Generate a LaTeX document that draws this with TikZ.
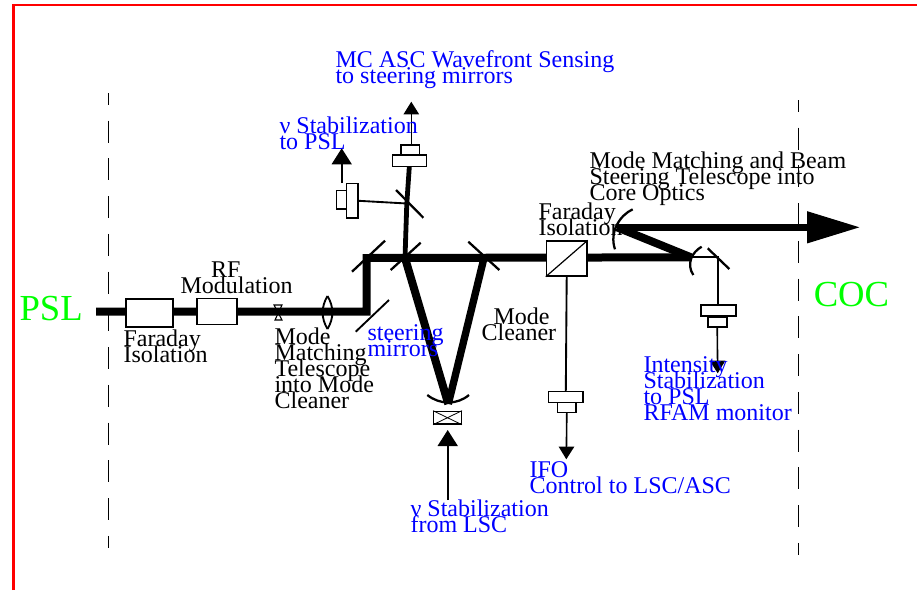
\documentclass[tikz,border=0pt]{standalone}
\usepackage{fontspec}
\setmainfont{Liberation Serif}
\usetikzlibrary{arrows.meta,calc,positioning}
\definecolor{labelblue}{rgb}{0,0,1}
\definecolor{labelgreen}{rgb}{0,1,0}
\lineskiplimit=-30pt
\tikzset{
  beam/.style={line width=6pt},
  thinbeam/.style={line width=3.6pt},
  pickoff/.style={line width=1.4pt},
  mirror/.style={line width=1.7pt},
  signal/.style={line width=1.2pt,-{Triangle[width=11.5pt,length=9.5pt]}},
  bigsignal/.style={line width=1.2pt,-{Triangle[width=15pt,length=12pt]}},
  optic/.style 2 args={draw,fill=white,line width=1pt,inner sep=0,minimum width=#1*0.75pt,minimum height=#2*0.75pt},
  txt/.style={align=left,inner sep=0,anchor=north west,font=\fontsize{18}{12}\selectfont},
  sig/.style={txt,text=labelblue},
  region/.style={inner sep=0,anchor=base west,text=labelgreen,font=\fontsize{27.5}{30}\selectfont},
  boundary/.style={line width=0.9pt,dash pattern=on 16.5pt off 11.8pt,dash phase=7.5pt}
}
\begin{document}
\begin{tikzpicture}[x=0.75pt,y=-0.75pt]
  \useasboundingbox (0,0) rectangle (917,590);
  % Frame
  \draw[red,line width=2pt] (13.3,590) -- (13.3,5) -- (917,5);
  % Region boundaries
  \coordinate (PSLtop) at (108.7,93);
  \coordinate (PSLbot) at (108.7,548);
  \coordinate (COCtop) at (798.3,100);
  \coordinate (COCbot) at (798.3,555);
  \draw[boundary] (PSLtop) -- (PSLbot);
  \draw[boundary] (COCtop) -- (COCbot);
  % Beam junctions
  \coordinate (In) at (96,311.7);
  \coordinate (Turn) at (366.5,311.7);
  \coordinate (Steer) at (366.5,258);
  \coordinate (MCin) at (405,258);
  \coordinate (MCout) at (484,258);
  \coordinate (MCend) at (448.3,404);
  \coordinate (Fold) at (691,257.3);
  \coordinate (Tele) at (617,227.3);
  \coordinate (Out) at (860.5,227.3);
  \coordinate (Split) at (406.8,203.5);
  \coordinate (Pick) at (718.3,257.3);
  % Telescope optics sit under the beam
  \draw[line width=0.8pt,fill=white] (274,305) -- (282,305) -- (275,320) -- (282,320) -- cycle;
  \draw[line width=1.4pt] (327.5,296) .. controls (321,307) and (321,318) .. (327.5,329);
  \draw[line width=1.4pt] (327.5,296) .. controls (334,307) and (334,318) .. (327.5,329);
  % Main beam
  \draw[beam,line join=miter] (In) -- (Turn) -- (Steer) -- (Fold);
  \draw[beam] (Fold) -- (Tele);
  \draw[line width=5.5pt,-{Triangle[width=22.5pt,length=40pt]}] (Tele) -- (Out);
  % Mode cleaner
  \draw[line width=6pt] (MCin) -- (MCend);
  \draw[line width=5.5pt] (MCout) -- (MCend);
  % Optics on the main beam
  \node[optic={47}{28}] (FI) at (149.5,313) {};
  \node[optic={40}{25.5}] (RF) at (217,311.5) {};
  \node[optic={40.5}{35}] (FR) at (566.7,258.5) {};
  \draw[line width=0.9pt] (FR.south west) -- (FR.north east);
  % Steering mirrors
  \draw[pickoff] (355.7,331.7) -- (389,300);
  \draw[mirror] (352,271.7) -- (385,240.7);
  \draw[mirror] (390.7,270) -- (420.7,242.7);
  \draw[mirror] (468.3,241.7) -- (499.3,270);
  \draw[mirror] (427.3,395) .. controls (440,405) and (457,405) .. (469,395);
  \draw[mirror] (632.7,209.3) .. controls (620,215) and (609,232) .. (615,249.3);
  \draw[mirror] (701.7,246.7) .. controls (692,252) and (686,264) .. (693.3,275);
  \draw[mirror] (707.7,248.3) -- (729.3,269);
  \draw[mirror] (396,190) -- (423.3,217.7);
  % MC wavefront sensing
  \node[optic={34}{11.3}] (WFSa) at (409.3,160.7) {};
  \node[optic={18.3}{10}] (WFSb) at (410.2,150) {};
  \coordinate (WFSup) at (411.3,101.7);
  \draw[thinbeam] (MCin) -- (Split) -- (WFSa.south);
  \draw[signal] (WFSb.north -| WFSup) -- (WFSup);
  % Frequency stabilization to PSL
  \node[optic={11.7}{34.3}] (FSa) at (352.2,200.8) {};
  \node[optic={10}{18.3}] (FSb) at (341.7,199.8) {};
  \coordinate (FSfoot) at (341.7,183);
  \coordinate (FSup) at (341.7,148.3);
  \draw[pickoff] (Split) -- (FSa.east);
  \draw[bigsignal] (FSfoot) -- (FSup);
  % Frequency stabilization from LSC
  \node[optic={27.6}{12.7}] (PC) at (447.5,417.7) {};
  \draw[line width=0.6pt] (PC.south west) -- (PC.north east);
  \draw[line width=0.6pt] (PC.north west) -- (PC.south east);
  \coordinate (LSCfoot) at (447.7,500);
  \coordinate (LSCtip) at (447.7,430);
  \draw[bigsignal] (LSCfoot) -- (LSCtip);
  % IFO control
  \node[optic={34.3}{10.6}] (IFOa) at (565.8,397) {};
  \node[optic={18.3}{9.6}] (IFOb) at (566.8,407.5) {};
  \coordinate (IFOtip) at (566.3,459.3);
  \draw[pickoff] (FR.south) -- (IFOa.north);
  \draw[signal] (IFOb.south) -- (IFOtip);
  % Intensity stabilization
  \node[optic={35}{11},line width=1.4pt] (ISa) at (718.2,310.5) {};
  \node[optic={19}{10},line width=1.4pt] (ISb) at (717.2,321.7) {};
  \coordinate (IStip) at (717.7,373.3);
  \draw[pickoff] (Fold) -- (Pick) -- (ISa.north -| Pick);
  \draw[signal] (ISb.south) -- (IStip);
  % Labels
  \node[region] (PSL) at (19.3,320) {PSL};
  \node[region] (COC) at (813.5,306) {COC};
  \node[sig] (wfs) at (335.3,50) {MC ASC Wavefront Sensing\\to steering mirrors};
  \node[sig] (nupsl) at (279.3,117) {ν Stabilization\\to PSL};
  \node[txt] (cot) at (589.3,152) {Mode Matching and Beam\\Steering Telescope into\\Core Optics};
  \node[txt] (fr) at (538.3,203) {Faraday\\Isolation};
  \node[txt] (rfm) at (180.3,262) {\hspace*{23pt}RF\\Modulation};
  \node[txt] (fi) at (123.3,329.5) {Faraday\\Isolation};
  \node[txt] (mmt) at (274.3,328) {Mode\\Matching\\Telescope\\into Mode\\Cleaner};
  \node[sig] (steer) at (367.3,324) {steering\\mirrors};
  \node[txt] (mc) at (481.3,307.5) {\hspace*{9pt}Mode\\Cleaner};
  \node[sig] (ism) at (643.3,356.5) {Intensity\\Stabilization\\to PSL\\RFAM monitor};
  \node[sig] (ifo) at (529.3,461.5) {IFO\\Control to LSC/ASC};
  \node[sig] (nulsc) at (410.3,500) {ν Stabilization\\from LSC};
\end{tikzpicture}
\end{document}
